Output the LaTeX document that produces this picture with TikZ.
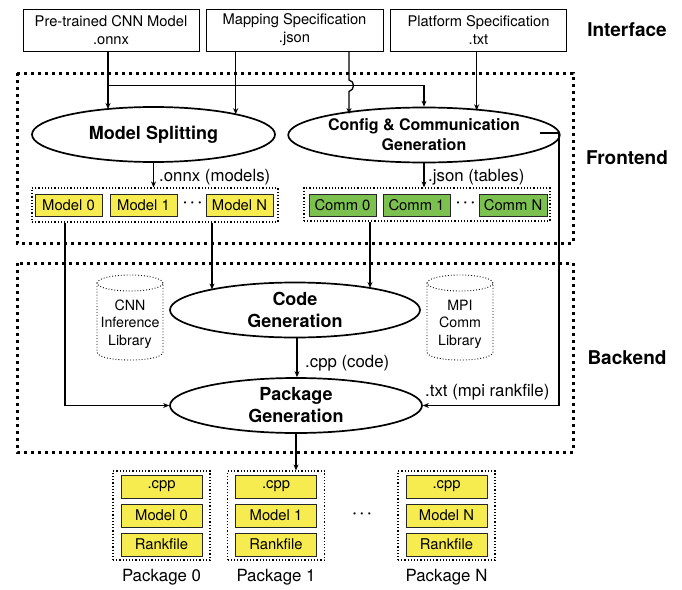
\documentclass[tikz,border=0pt]{standalone}
\usepackage{fontspec}
\setmainfont{TeX Gyre Heros}
\usetikzlibrary{arrows.meta,shapes.geometric}
\definecolor{ylw}{RGB}{246,236,80}
\definecolor{grn}{RGB}{124,193,80}
\begin{document}
\begin{tikzpicture}[x=1pt,y=-1pt,
  ibox/.style={draw, line width=0.9pt, minimum height=42pt, inner sep=0pt, align=center, font=\fontsize{14.7}{18}\selectfont},
  ell/.style={ellipse, draw, line width=1.7pt, inner sep=0pt, align=center},
  arr/.style={line width=1.3pt, -{Stealth[length=6pt,width=5pt]}},
  ln/.style={line width=1.3pt},
  bigdot/.style={line width=3pt, dash pattern=on 3pt off 4pt},
  grp/.style={draw, dotted, line width=1.2pt, inner sep=0pt},
  ybox/.style={draw=black!85, fill=ylw, line width=0.8pt, inner sep=0pt, minimum height=22pt, font=\fontsize{14.8}{17}\selectfont},
  gbox/.style={draw=black!85, fill=grn, line width=0.8pt, inner sep=0pt, minimum height=22pt, font=\fontsize{14.8}{17}\selectfont},
  pbox/.style={draw=black!85, fill=ylw, line width=0.8pt, inner sep=0pt, minimum height=23pt, minimum width=81pt, font=\fontsize{14.8}{17}\selectfont},
  lbl/.style={inner sep=0pt, font=\fontsize{16.8}{19}\selectfont},
  sect/.style={inner sep=0pt, font=\bfseries\fontsize{19}{22}\selectfont},
  cyl/.style={dotted, line width=0.9pt},
  cyltext/.style={inner sep=0pt, align=center, font=\fontsize{14.2}{17.5}\selectfont},
  dts/.style={inner sep=0pt, font=\boldmath\Large}
]
\useasboundingbox (0,0) rectangle (682,589);

% Interface
\node[ibox, minimum width=176pt] (b1) at (111,30) {Pre-trained CNN Model\\.onnx};
\node[ibox, minimum width=177pt] (b2) at (294.5,30) {Mapping Specification\\.json};
\node[ibox, minimum width=176pt] (b3) at (478.5,30) {Platform Specification\\.txt};
\node[sect] (ifl) at (627,30) {Interface};

% Frontend / Backend frames
\draw[bigdot] (17,73) rectangle (573,243);
\draw[bigdot] (17,263) rectangle (573,452);
\node[sect] (fel) at (627,158) {Frontend};
\node[sect] (bel) at (627,358) {Backend};

% Frontend ellipses
\node[ell, minimum width=243pt, minimum height=55pt, font=\bfseries\fontsize{18}{21}\selectfont] (ms) at (153.5,134.5) {Model Splitting};
\node[ell, minimum width=233pt, minimum height=55pt, font=\bfseries\fontsize{16}{20}\selectfont] (cc) at (424,135) {Config \& Communication\\Generation};

% groups
\node[grp, minimum width=246pt, minimum height=34pt] (mg) at (155,205) {};
\node[ybox, minimum width=67pt] (m0) at (68.5,205) {Model 0};
\node[ybox, minimum width=67pt] (m1) at (143.5,205) {Model 1};
\node[dts] (md) at (192.5,203) {$\cdots$};
\node[ybox, minimum width=67pt] (mN) at (239.5,205) {Model N};

\node[grp, minimum width=246pt, minimum height=33pt] (cg) at (427,204.5) {};
\node[gbox, minimum width=67pt] (c0) at (342.5,205) {Comm 0};
\node[gbox, minimum width=67pt] (c1) at (416.5,205) {Comm 1};
\node[dts] (cd) at (465.5,203) {$\cdots$};
\node[gbox, minimum width=68pt] (cN) at (513,205) {Comm N};

% Backend
\node[ell, minimum width=250pt, minimum height=55pt, font=\bfseries\fontsize{18}{22}\selectfont] (cgen) at (295,310) {Code\\Generation};
\node[ell, minimum width=252pt, minimum height=55pt, font=\bfseries\fontsize{18}{22}\selectfont] (pg) at (296,405.5) {Package\\Generation};

% cylinders
\draw[cyl] (130,283) ellipse [x radius=33pt, y radius=8pt];
\draw[cyl] (97,283) -- (97,352) .. controls (97,362.7) and (163,362.7) .. (163,352) -- (163,283);
\node[cyltext] (cnn) at (130,324) {CNN\\Inference\\Library};
\draw[cyl] (460,283) ellipse [x radius=33pt, y radius=8pt];
\draw[cyl] (427,283) -- (427,352) .. controls (427,362.7) and (493,362.7) .. (493,352) -- (493,283);
\node[cyltext] (mpi) at (460,324) {MPI\\Comm\\Library};

% packages
\foreach \nm/\cx/\lab/\md in {p0/161.5/Package 0/Model 0, p1/276/Package 1/Model 1, pN/446.5/Package N/Model N}{
  \node[grp, minimum width=97pt, minimum height=89pt] (\nm) at (\cx,515.5) {};
  \node[pbox] (\nm-cpp) at (\cx,486.5) {.cpp};
  \node[pbox] (\nm-mod) at (\cx,515.5) {\md};
  \node[pbox] (\nm-rk) at (\cx,544.5) {Rankfile};
  \node[lbl] (\nm-lab) at (\cx,577) {\lab};
}
\node[dts] (pd) at (362,514) {$\cdots$};

% coordinates on ellipse borders
\coordinate (t1) at (108,109);
\coordinate (j1) at (108,85.5);
\coordinate (t3) at (235.7,114.2);
\coordinate (t4) at (349,114);
\coordinate (t5) at (476.7,110.3);
\coordinate (t6) at (212,289.4);
\coordinate (t7) at (370,288);
\coordinate (ccr) at (540,133);

% connectors
\draw[arr] ([xshift=-3pt]b1.south) -- (t1);
\draw[arr] (j1) -| (cc.north);
\draw[arr] ([xshift=-58.8pt]b2.south) -- (t3);
\draw[arr] ([xshift=54.5pt]b2.south) -- (349,80) .. controls (355,81) and (355,90) .. (349,91.5) -- (t4);
\draw[arr] ([xshift=-1.8pt]b3.south) -- (t5);

\draw[arr] (ms.south) -- (ms.south |- mg.north);
\node[lbl, anchor=west] (onl) at (159,177) {.onnx (models)};
\draw[arr] (cc.south) -- (cc.south |- cg.north);
\node[lbl, anchor=west] (jsl) at (428,177) {.json (tables)};

\draw[arr] ([xshift=-3.5pt]m0.south |- mg.south) |- (pg.west);
\draw[arr] ([xshift=-27.5pt]mN.south |- mg.south) -- (t6);
\draw[arr] ([xshift=27.5pt]c0.south |- cg.south) -- (t7);
\draw[arr] (ccr) -- (559,133) |- (pg.east);
\node[lbl, anchor=west] (txl) at (425,392) {.txt (mpi rankfile)};

\draw[arr] ([xshift=2pt]cgen.south) -- ([xshift=2pt]cgen.south |- pg.north);
\node[lbl, anchor=west] (cpl) at (305,363) {.cpp (code)};
\draw[arr] (pg.south) -- (pg.south |- p1.north);
\end{tikzpicture}
\end{document}
